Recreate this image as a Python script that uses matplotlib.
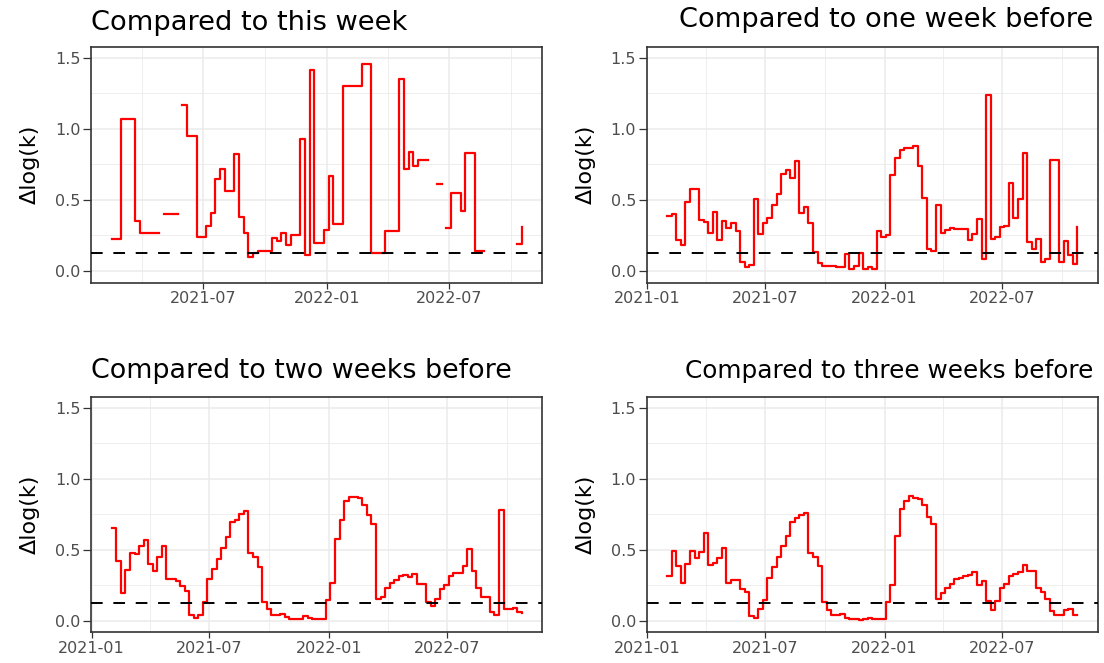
import numpy as np
import pandas as pd
import matplotlib
matplotlib.use("Agg")
import matplotlib.pyplot as plt
import matplotlib.dates as mdates
from matplotlib.ticker import FixedLocator, FormatStrFormatter

nan = np.nan

# weekly sampling dates (the "this week" series starts two weeks later)
dates_this = pd.date_range("2021-02-15", periods=88, freq="7D")
dates_prev = pd.date_range("2021-02-01", periods=91, freq="7D")

this_week = [
    0.225, 0.225, 1.07, 1.07, 1.07, 0.35, 0.27, 0.27, 0.27, 0.27,
    nan, 0.40, 0.40, 0.40, nan, 1.17, 0.95, 0.95, 0.24, 0.24,
    0.32, 0.41, 0.65, 0.72, 0.56, 0.56, 0.82, 0.38, 0.27, 0.10,
    0.13, 0.14, 0.14, 0.14, 0.23, 0.21, 0.27, 0.18, 0.25, 0.25,
    0.93, 0.11, 1.415, 0.20, 0.20, 0.29, 0.67, 0.33, 0.33, 1.30,
    1.30, 1.30, 1.30, 1.455, 1.455, 0.13, 0.13, 0.13, 0.28, 0.28,
    0.28, 1.35, 0.72, 0.84, 0.735, 0.78, 0.78, nan, nan, 0.61,
    nan, 0.30, 0.545, 0.545, 0.42, 0.83, 0.83, 0.14, 0.14, nan,
    nan, nan, nan, nan, nan, nan, 0.19, 0.31,
]

one_week = [
    0.387, 0.40, 0.218, 0.185, 0.488, 0.575, 0.575, 0.357, 0.347, 0.27,
    0.415, 0.218, 0.352, 0.305, 0.34, 0.282, 0.061, 0.03, 0.042, 0.507,
    0.26, 0.34, 0.376, 0.465, 0.54, 0.685, 0.709, 0.657, 0.775, 0.41,
    0.453, 0.34, 0.131, 0.054, 0.038, 0.038, 0.038, 0.026, 0.026, 0.117,
    0.014, 0.038, 0.129, 0.014, 0.03, 0.014, 0.284, 0.242, 0.253, 0.676,
    0.798, 0.85, 0.865, 0.865, 0.876, 0.74, 0.51, 0.155, 0.14, 0.467,
    0.265, 0.289, 0.305, 0.296, 0.296, 0.296, 0.218, 0.258, 0.364, 0.085,
    1.24, 0.225, 0.237, 0.312, 0.32, 0.617, 0.371, 0.507, 0.829, 0.204,
    0.155, 0.225, 0.061, 0.085, 0.782, 0.782, 0.066, 0.211, 0.113, 0.047,
    0.312,
]

two_weeks = [
    0.653, 0.418, 0.195, 0.357, 0.474, 0.47, 0.523, 0.566, 0.40, 0.347,
    0.448, 0.523, 0.293, 0.293, 0.277, 0.246, 0.209, 0.04, 0.019, 0.042,
    0.134, 0.293, 0.366, 0.434, 0.512, 0.592, 0.697, 0.711, 0.754, 0.775,
    0.477, 0.446, 0.38, 0.131, 0.082, 0.038, 0.038, 0.047, 0.023, 0.014,
    0.01, 0.01, 0.03, 0.016, 0.012, 0.012, 0.012, 0.148, 0.265, 0.575,
    0.707, 0.84, 0.871, 0.868, 0.864, 0.817, 0.742, 0.681, 0.153, 0.167,
    0.232, 0.265, 0.289, 0.312, 0.324, 0.307, 0.329, 0.26, 0.26, 0.134,
    0.10, 0.153, 0.225, 0.254, 0.312, 0.333, 0.333, 0.387, 0.507, 0.347,
    0.23, 0.167, 0.167, 0.063, 0.038, 0.782, 0.085, 0.085, 0.09, 0.059,
    0.054,
]

three_weeks = [
    0.317, 0.488, 0.387, 0.265, 0.40, 0.488, 0.441, 0.484, 0.615, 0.394,
    0.406, 0.441, 0.512, 0.265, 0.289, 0.289, 0.225, 0.204, 0.03, 0.016,
    0.082, 0.148, 0.30, 0.378, 0.446, 0.528, 0.594, 0.697, 0.721, 0.746,
    0.758, 0.474, 0.446, 0.383, 0.131, 0.077, 0.042, 0.042, 0.047, 0.019,
    0.012, 0.012, 0.007, 0.014, 0.016, 0.012, 0.012, 0.012, 0.134, 0.254,
    0.599, 0.789, 0.843, 0.876, 0.862, 0.857, 0.812, 0.732, 0.681, 0.153,
    0.195, 0.23, 0.26, 0.293, 0.303, 0.312, 0.319, 0.34, 0.254, 0.277,
    0.141, 0.073, 0.139, 0.228, 0.258, 0.312, 0.331, 0.34, 0.39, 0.352,
    0.352, 0.232, 0.204, 0.153, 0.066, 0.04, 0.04, 0.073, 0.085, 0.042,
    0.042,
]

titles = [
    "Compared to this week",
    "Compared to one week before",
    "Compared to two weeks before",
    "Compared to three weeks before",
]
threshold = 0.125

panels = [
    (dates_this, this_week),
    (dates_prev, one_week),
    (dates_prev, two_weeks),
    (dates_prev, three_weeks),
]

# axes boxes [left, bottom, width, height] in figure fractions
boxes = [
    [0.0827, 0.5736, 0.4085, 0.3560],
    [0.5858, 0.5736, 0.4085, 0.3560],
    [0.0827, 0.0463, 0.4085, 0.3554],
    [0.5858, 0.0463, 0.4085, 0.3554],
]
title_x = [0.0, 0.9896, 0.0, 0.9896]
title_ha = ["left", "right", "left", "right"]
title_y = [1.072, 1.082, 1.078, 1.080]
title_size = [19.6, 19.6, 19.4, 17.8]

GRID = "#EBEBEB"
FRAME = "#333333"
TICKTXT = "#4D4D4D"

fig = plt.figure(figsize=(11.04, 6.63), dpi=100)

for k, ((dates, vals), box) in enumerate(zip(panels, boxes)):
    ax = fig.add_axes(box)
    ax.step(dates, np.array(vals, dtype=float), where="post",
            color="#FF0000", lw=1.6, zorder=3)
    ax.axhline(threshold, color="black", lw=1.4, dashes=(6, 5.5), zorder=4)

    # ggplot-style 5% expansion around the data range
    lo, hi = dates.min(), dates.max()
    pad = (hi - lo) * 0.05
    ax.set_xlim(lo - pad, hi + pad)
    ax.set_ylim(-0.082, 1.577)

    ax.xaxis.set_major_locator(mdates.MonthLocator(bymonth=[1, 7]))
    ax.xaxis.set_minor_locator(mdates.MonthLocator(bymonth=[4, 10]))
    ax.xaxis.set_major_formatter(mdates.DateFormatter("%Y-%m"))
    ax.yaxis.set_major_locator(FixedLocator([0.0, 0.5, 1.0, 1.5]))
    ax.yaxis.set_minor_locator(FixedLocator([0.25, 0.75, 1.25]))
    ax.yaxis.set_major_formatter(FormatStrFormatter("%.1f"))

    ax.set_axisbelow(True)
    ax.grid(which="major", color=GRID, lw=1.1)
    ax.grid(which="minor", color=GRID, lw=0.6)

    ax.tick_params(axis="x", which="major", length=4.5, width=0.9,
                   color=FRAME, labelcolor=TICKTXT, labelsize=11.5, pad=1.5)
    ax.tick_params(axis="y", which="major", length=6, width=0.9,
                   color=FRAME, labelcolor=TICKTXT, labelsize=11.5, pad=1.7)
    ax.tick_params(which="minor", length=0)

    for sp in ax.spines.values():
        sp.set_color(FRAME)
        sp.set_linewidth(1.2)

    ax.set_ylabel("Δlog(k)", fontsize=16, va="center")
    ax.yaxis.set_label_coords(-0.136, 0.5)

    ax.text(title_x[k], title_y[k], titles[k], transform=ax.transAxes,
            ha=title_ha[k], va="baseline", fontsize=title_size[k],
            color="black")

fig.savefig("out.png", dpi=100)
